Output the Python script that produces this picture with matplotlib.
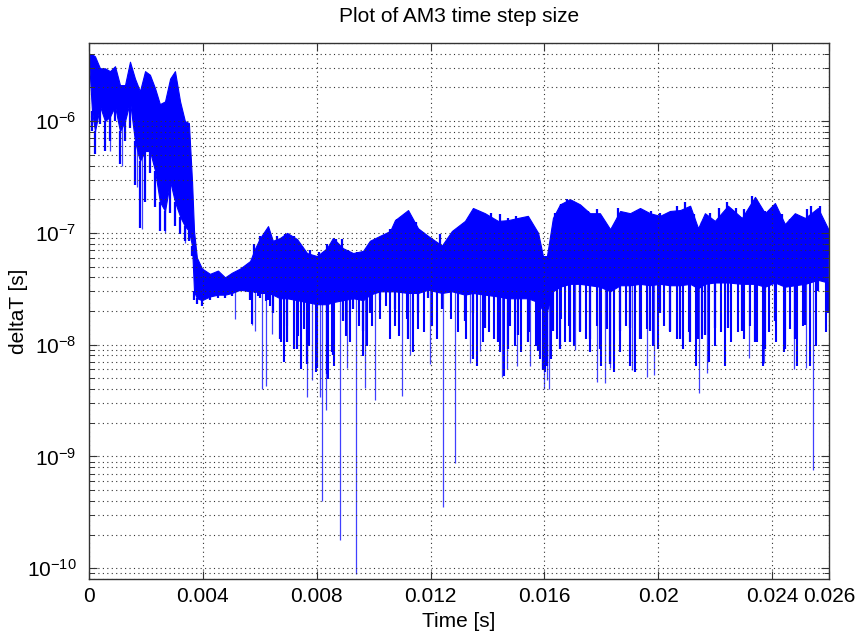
import numpy as np
import matplotlib
matplotlib.use("Agg")
import matplotlib.pyplot as plt
from matplotlib.ticker import FixedLocator, FixedFormatter, NullFormatter, LogFormatterSciNotation

# ---------------- data ----------------
# time samples (ms) of the band envelope
t_ms = [0.00, 0.105, 0.21, 0.386, 0.562, 0.738, 0.914, 1.089, 1.265, 1.44,
        1.616, 1.79, 1.97, 2.14, 2.32, 2.49, 2.67, 2.85, 3.02, 3.20,
        3.37, 3.51, 3.62, 3.69, 3.79, 3.97, 4.25, 4.53, 4.78, 5.02,
        5.31, 5.66, 5.83, 6.01, 6.29, 6.46, 6.71, 6.96, 7.31, 7.66,
        8.01, 8.36, 8.57, 8.92, 9.28, 9.63, 9.87, 10.22, 10.58, 10.75,
        11.21, 11.56, 11.91, 12.40, 12.75, 13.21, 13.49, 13.91, 14.37, 14.72,
        15.07, 15.42, 15.78, 15.95, 16.09, 16.30, 16.55, 16.90, 17.25, 17.60,
        17.95, 18.31, 18.66, 19.01, 19.36, 19.71, 20.06, 20.41, 20.77, 21.12,
        21.40, 21.64, 21.99, 22.45, 22.94, 23.40, 23.75, 24.10, 24.45, 24.80,
        25.16, 25.61, 25.96]
# upper edge of the band
dt_top = [4.0e-6, 3.96e-6, 3.8e-6, 2.97e-6, 2.97e-6, 2.8e-6, 3.1e-6, 2.1e-6, 2.1e-6, 3.4e-6,
          2.4e-6, 1.85e-6, 2.8e-6, 2.6e-6, 1.97e-6, 1.42e-6, 1.5e-6, 2.4e-6, 2.8e-6, 1.5e-6,
          1.0e-6, 9.6e-7, 2.9e-7, 1.04e-7, 6.0e-8, 4.8e-8, 4.3e-8, 4.6e-8, 4.0e-8, 4.4e-8,
          4.8e-8, 5.6e-8, 7.2e-8, 9.0e-8, 1.15e-7, 8.5e-8, 9.0e-8, 1.0e-7, 8.8e-8, 6.6e-8,
          6.2e-8, 7.3e-8, 9.0e-8, 7.3e-8, 6.6e-8, 6.9e-8, 8.5e-8, 9.4e-8, 1.04e-7, 1.3e-7,
          1.6e-7, 1.1e-7, 9.4e-8, 7.7e-8, 1.04e-7, 1.28e-7, 1.67e-7, 1.5e-7, 1.28e-7, 1.3e-7,
          1.36e-7, 1.42e-7, 1.0e-7, 6.2e-8, 6.2e-8, 1.36e-7, 1.8e-7, 2.0e-7, 1.8e-7, 1.5e-7,
          1.5e-7, 1.08e-7, 1.57e-7, 1.5e-7, 1.67e-7, 1.5e-7, 1.42e-7, 1.57e-7, 1.6e-7, 1.75e-7,
          1.1e-7, 1.5e-7, 1.28e-7, 1.75e-7, 1.36e-7, 2.1e-7, 1.5e-7, 1.85e-7, 1.2e-7, 1.5e-7,
          1.36e-7, 1.67e-7, 1.1e-7]
# lower edge of the solid part of the band
dt_core = [3.5e-6, 1.23e-6, 8.1e-7, 1.36e-6, 1.0e-6, 1.1e-6, 1.36e-6, 8.1e-7, 1.0e-6, 1.5e-6,
           6.6e-7, 4.4e-7, 5.4e-7, 5.4e-7, 3.6e-7, 1.9e-7, 1.57e-7, 2.9e-7, 1.9e-7, 1.4e-7,
           1.15e-7, 1.04e-7, 7.7e-8, 3.0e-8, 2.6e-8, 2.5e-8, 2.7e-8, 2.8e-8, 2.8e-8, 2.9e-8,
           3.1e-8, 3.0e-8, 3.0e-8, 2.9e-8, 2.9e-8, 2.8e-8, 2.6e-8, 2.6e-8, 2.5e-8, 2.4e-8,
           2.3e-8, 2.3e-8, 2.4e-8, 2.5e-8, 2.6e-8, 2.5e-8, 2.8e-8, 3.0e-8, 3.0e-8, 3.0e-8,
           2.9e-8, 2.9e-8, 3.1e-8, 2.9e-8, 3.0e-8, 2.8e-8, 2.9e-8, 2.8e-8, 2.7e-8, 2.6e-8,
           2.6e-8, 2.6e-8, 2.4e-8, 2.0e-8, 2.0e-8, 3.0e-8, 3.3e-8, 3.5e-8, 3.5e-8, 3.4e-8,
           3.3e-8, 3.0e-8, 3.4e-8, 3.4e-8, 3.5e-8, 3.4e-8, 3.5e-8, 3.4e-8, 3.4e-8, 3.5e-8,
           3.2e-8, 3.5e-8, 3.6e-8, 3.6e-8, 3.5e-8, 3.5e-8, 3.3e-8, 3.6e-8, 3.3e-8, 3.4e-8,
           3.5e-8, 3.8e-8, 3.6e-8]
# lower edge of the dense dips below the solid part
dt_low = [2.5e-6, 8.1e-7, 5.1e-7, 9.4e-7, 5.4e-7, 6.6e-7, 1.0e-6, 4.1e-7, 6.6e-7, 8.7e-7,
          2.7e-7, 1.1e-7, 1.9e-7, 3.4e-7, 1.7e-7, 1.04e-7, 1.04e-7, 1.5e-7, 1.15e-7, 9.8e-8,
          8.5e-8, 8.5e-8, 6.2e-8, 2.5e-8, 2.3e-8, 2.2e-8, 2.5e-8, 2.6e-8, 2.6e-8, 2.7e-8,
          3.0e-8, 2.5e-8, 2.9e-8, 2.6e-8, 2.5e-8, 1.9e-8, 1.13e-8, 1.06e-8, 9.2e-9, 6.7e-9,
          6.2e-9, 5.5e-9, 8.1e-9, 1.64e-8, 2.1e-8, 1.33e-8, 1.9e-8, 2.5e-8, 2.9e-8, 2.1e-8,
          1.13e-8, 1.9e-8, 2.6e-8, 2.1e-8, 3.0e-8, 1.64e-8, 1.9e-8, 1.4e-8, 1.06e-8, 9.2e-9,
          1.23e-8, 1.06e-8, 8.8e-9, 5.9e-9, 6.5e-9, 1.33e-8, 9.2e-9, 1.06e-8, 1.33e-8, 1.13e-8,
          9.2e-9, 6.7e-9, 1.33e-8, 1.4e-8, 1.13e-8, 1.33e-8, 1.9e-8, 1.33e-8, 1.13e-8, 1.06e-8,
          1.13e-8, 1.23e-8, 1.4e-8, 1.4e-8, 1.33e-8, 1.06e-8, 9.2e-9, 1.64e-8, 9.2e-9, 1.13e-8,
          1.5e-8, 3.0e-8, 1.9e-8]
# upward peaks on the top edge (ms, deltaT)
peak_t_ms = [5.79, 6.01, 6.60, 6.89, 7.19, 7.49, 7.78, 8.08, 8.37, 8.67, 8.89, 9.11,
             9.41, 9.70, 10.00, 10.30, 10.59, 10.81, 11.04, 11.48, 11.72, 11.93, 12.32,
             12.66, 12.81, 13.10, 13.40, 13.84, 14.14, 14.43, 14.73, 15.02, 15.32,
             16.36, 16.58, 16.80, 17.02, 17.25, 17.54, 17.84, 18.13, 18.58, 18.87,
             19.17, 19.46, 19.76, 20.06, 20.35, 20.65, 20.94, 21.24, 21.53, 21.83,
             22.13, 22.42, 22.72, 23.01, 23.31, 23.53, 23.75, 24.05, 24.34, 24.64,
             24.93, 25.23, 25.38, 25.67, 25.97]
peak_dt = [7.9e-8, 9.4e-8, 9.4e-8, 9.7e-8, 9.4e-8, 7.65e-8, 7.1e-8, 6.7e-8, 7.9e-8, 8.8e-8, 8.8e-8, 7.1e-8,
           6.7e-8, 6.9e-8, 8.5e-8, 9.4e-8, 1.08e-7, 1.32e-7, 1.15e-7, 1.24e-7, 1.01e-7, 7.65e-8, 9.7e-8,
           8.5e-8, 1.01e-7, 1.08e-7, 1.01e-7, 1.15e-7, 1.52e-7, 1.47e-7, 1.37e-7, 1.42e-7, 1.32e-7,
           1.52e-7, 1.80e-7, 2.0e-7, 1.80e-7, 1.63e-7, 1.57e-7, 1.63e-7, 1.12e-7, 1.68e-7, 1.52e-7,
           1.52e-7, 1.37e-7, 1.57e-7, 1.52e-7, 1.52e-7, 1.74e-7, 1.87e-7, 1.47e-7, 1.24e-7, 1.52e-7,
           1.68e-7, 1.87e-7, 1.68e-7, 1.63e-7, 2.14e-7, 1.63e-7, 1.57e-7, 1.37e-7, 1.47e-7, 1.32e-7,
           1.42e-7, 1.63e-7, 1.74e-7, 1.74e-7, 1.08e-7]
# downward dips below the solid band (ms, deltaT)
dip_t_ms = [5.711, 5.933, 6.229, 6.376, 6.598, 6.746, 6.850, 6.968, 7.086, 7.190, 7.338, 7.456,
            7.559, 7.737, 7.959, 8.402, 8.521, 8.624, 9.038, 9.186, 9.482, 9.630, 9.778, 9.926,
            10.221, 10.443, 10.591, 10.739, 10.887, 11.183, 11.375, 11.552, 11.774, 12.040, 12.218,
            12.735, 12.957, 13.253, 13.475, 13.623, 13.845, 14.066, 14.214, 14.436, 14.584, 14.806,
            14.953, 15.175, 15.471, 15.693, 15.841, 15.944, 16.033, 16.240, 16.432, 16.580, 16.728,
            16.876, 17.024, 17.246, 17.467, 17.615, 17.837, 17.985, 18.207, 18.429, 18.650, 18.872,
            19.020, 19.168, 19.390, 19.612, 19.833, 19.981, 20.203, 20.425, 20.647, 20.869, 21.090,
            21.312, 21.534, 21.800, 21.978, 22.200, 22.347, 22.569, 22.791, 23.013, 23.235, 23.456,
            23.678, 23.900, 24.122, 24.418, 24.639, 24.861, 25.083, 25.349, 25.527, 25.897]
dip_dt = [1.53e-8, 2.74e-8, 2.47e-8, 2.23e-8, 2.74e-8, 1.05e-8, 6.95e-9, 1.48e-8, 2.74e-8, 9.15e-9, 1.2e-8, 6.06e-9,
          1.38e-8, 9.8e-9, 5.66e-9, 4.93e-9, 8.55e-9, 6.49e-9, 1.2e-8, 1.05e-8, 1.48e-8, 7.98e-9, 9.8e-9, 1.48e-8,
          1.69e-8, 2.23e-8, 1.12e-8, 1.48e-8, 1.2e-8, 1.69e-8, 8.55e-9, 1.38e-8, 1.29e-8, 1.48e-8, 1.12e-8,
          1.69e-8, 1.29e-8, 1.12e-8, 7.45e-9, 6.49e-9, 1.05e-8, 1.29e-8, 1.12e-8, 8.55e-9, 5.28e-9, 1.48e-8,
          9.8e-9, 8.55e-9, 1.29e-8, 9.8e-9, 7.45e-9, 6.49e-9, 5.66e-9, 7.45e-9, 1.12e-8, 1.69e-8, 1.05e-8,
          1.48e-8, 9.8e-9, 1.29e-8, 1.12e-8, 8.55e-9, 1.48e-8, 6.49e-9, 1.38e-8, 5.66e-9, 8.55e-9, 1.48e-8,
          6.49e-9, 5.66e-9, 1.12e-8, 1.38e-8, 9.8e-9, 9.15e-9, 1.48e-8, 1.29e-8, 1.12e-8, 9.15e-9, 1.29e-8,
          6.49e-9, 1.12e-8, 6.95e-9, 9.8e-9, 1.29e-8, 6.49e-9, 1.05e-8, 1.29e-8, 1.12e-8, 1.48e-8, 1.05e-8,
          6.49e-9, 1.29e-8, 1.05e-8, 8.55e-9, 1.38e-8, 6.49e-9, 1.48e-8, 6.49e-9, 9.8e-9, 1.29e-8]
# isolated deep downward spikes (ms, deltaT)
spike_t_ms = [0.74, 1.16, 1.69, 1.86, 2.67, 3.37, 5.13, 5.73, 5.83, 6.08, 6.22, 6.43,
              7.66, 7.84, 8.12, 8.19, 8.33, 8.82, 9.07, 9.38, 9.70, 10.05,
              10.99, 11.28, 11.98, 12.44, 12.86, 13.39, 13.74, 14.51, 14.69, 15.04, 15.49,
              15.99, 16.16, 16.09, 17.08, 17.85, 18.13, 18.31, 19.08, 19.61, 19.85,
              21.44, 21.72, 23.19, 23.72, 24.77, 25.19, 25.44]
spike_dt = [5.4e-7, 4.0e-7, 2.6e-7, 1.08e-7, 1.0e-7, 8.2e-8, 1.7e-8, 1.5e-8, 1.33e-8, 4.0e-9, 4.3e-9, 1.25e-8,
            3.4e-9, 4.8e-9, 3.4e-9, 4.0e-10, 2.6e-9, 1.78e-10, 6.2e-9, 8.8e-11, 4.1e-9, 3.2e-9,
            3.5e-9, 8.1e-9, 6.7e-9, 3.5e-10, 8.7e-10, 6.8e-9, 8.8e-9, 5.1e-9, 6.1e-9, 6.4e-9, 6.4e-9,
            4.0e-9, 4.0e-9, 4.8e-9, 9.0e-9, 4.6e-9, 4.5e-9, 6.2e-9, 5.9e-9, 5.1e-9, 5.3e-9,
            3.7e-9, 5.6e-9, 7.6e-9, 6.8e-9, 6.1e-9, 6.2e-9, 7.5e-10]

x_ticks = [0, 0.004, 0.008, 0.012, 0.016, 0.02, 0.024, 0.026]
x_tick_labels = ["0", "0.004", "0.008", "0.012", "0.016", "0.02", "0.024", "0.026"]
y_ticks = [1e-10, 1e-9, 1e-8, 1e-7, 1e-6]

# ---------------- figure ----------------
plt.rcParams['font.family'] = ['Liberation Sans', 'DejaVu Sans']
plt.rcParams['mathtext.fontset'] = 'custom'
plt.rcParams['mathtext.rm'] = 'Liberation Sans'
plt.rcParams['mathtext.it'] = 'Liberation Sans'
plt.rcParams['mathtext.default'] = 'regular'

fig = plt.figure(figsize=(8.6, 6.41), dpi=100)
ax = fig.add_axes([89/860, 1-579/641, (829-89)/860, (579-43)/641])

blue = '#0000ff'
t = np.array(t_ms) * 1e-3
top = np.array(dt_top)
core = np.array(dt_core)
low = np.array(dt_low)
mid = np.sqrt(top * core)          # a point inside the band, anchor for spikes

ax.fill_between(t, core, top, color=blue, lw=0.8, edgecolor=blue)
ax.vlines(t, low, core, color=blue, lw=1.6)

pt = np.array(peak_t_ms) * 1e-3
ax.vlines(pt, np.interp(pt, t, mid), peak_dt, color=blue, lw=1.6)
dpt = np.array(dip_t_ms) * 1e-3
ax.vlines(dpt, np.interp(dpt, t, mid), dip_dt, color=blue, lw=1.5)
st = np.array(spike_t_ms) * 1e-3
ax.vlines(st, np.interp(st, t, mid), spike_dt, color=blue, lw=0.9, alpha=0.75)

ax.set_yscale('log')
ax.set_xlim(0, 0.026)
ax.set_ylim(8e-11, 5e-6)

ax.xaxis.set_major_locator(FixedLocator(x_ticks))
ax.xaxis.set_major_formatter(FixedFormatter(x_tick_labels))
minor = [m * d for d in [1e-11, 1e-10, 1e-9, 1e-8, 1e-7, 1e-6] for m in range(2, 10)]
minor = [v for v in minor if 8e-11 <= v <= 5e-6]
ax.yaxis.set_major_locator(FixedLocator(y_ticks))
ax.yaxis.set_major_formatter(LogFormatterSciNotation())
ax.yaxis.set_minor_locator(FixedLocator(minor))
ax.yaxis.set_minor_formatter(NullFormatter())

ax.tick_params(which='both', direction='in', top=True, right=True, labelsize=15, color='#333333')
ax.tick_params(which='major', length=6, width=0.8)
ax.tick_params(which='minor', length=3.5, width=0.7)
ax.tick_params(axis='y', which='major', pad=9)
ax.tick_params(axis='x', which='major', pad=6)

ax.grid(True, which='major', axis='both', linestyle=(0, (1, 3)), color='#333333', lw=0.8)
ax.grid(True, which='minor', axis='y', linestyle=(0, (1, 3)), color='#333333', lw=0.8)
ax.set_axisbelow(False)

for s in ax.spines.values():
    s.set_linewidth(1.0)
    s.set_color('#333333')

ax.set_title('Plot of AM3 time step size', fontsize=15, pad=15)
ax.set_xlabel('Time [s]', fontsize=15, labelpad=4)
ax.set_ylabel('deltaT [s]', fontsize=15)
ax.yaxis.set_label_coords(-0.083, 0.5)

fig.savefig('out.png', dpi=100)
